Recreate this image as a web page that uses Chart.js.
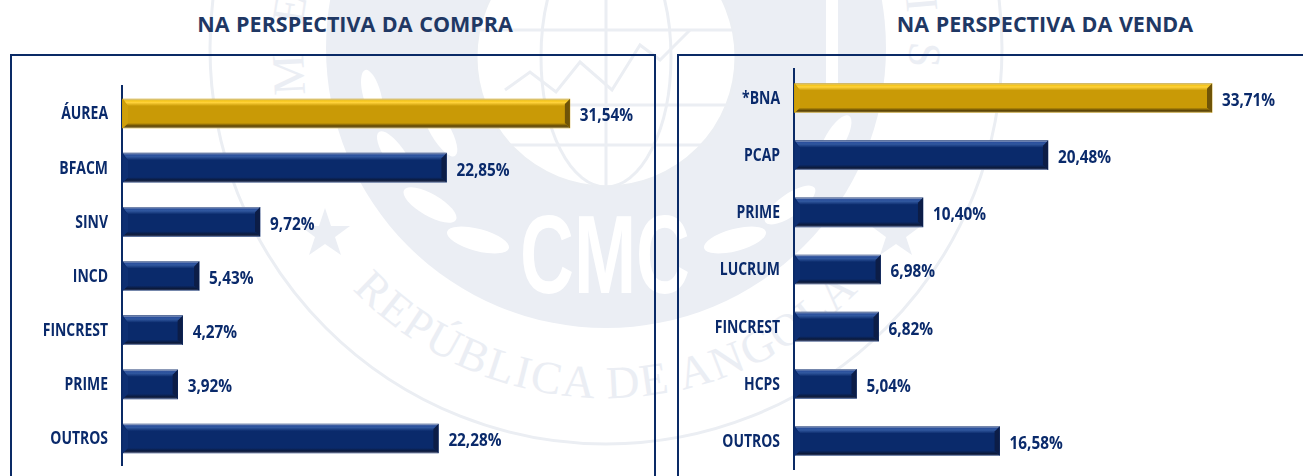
<!DOCTYPE html>
<html>
<head>
<meta charset="utf-8">
<script src="https://cdn.jsdelivr.net/npm/chart.js@4"></script>
<style>
  html, body { margin: 0; padding: 0; background: #fff; overflow: hidden; }
  #page { position: relative; width: 1303px; height: 476px; overflow: hidden; }
  #mark { position: absolute; left: 0; top: 0; }
  .title {
    position: absolute; top: 9px; color: #1f3864; word-spacing: 1px;
    font: bold 21.5px "Open Sans", sans-serif; white-space: nowrap; transform: translateX(-50%);
  }
  .box { position: absolute; top: 54px; height: 430px; box-sizing: border-box; border: 2px solid #0a2a66; }
  canvas { position: absolute; top: 56px; }
</style>
</head>
<body>
<div id="page">
  <!-- faint seal behind the charts -->
  <svg id="mark" width="1303" height="476" fill="none" stroke="#ebeef3">
    <defs>
      <path id="arcLow" d="M256 48 A350 350 0 0 0 956 48"/>
      <path id="arcTop" d="M308 100 A303 303 0 1 1 904 100"/>
    </defs>
    <circle cx="606" cy="48" r="396" stroke-width="3"/>
    <circle cx="606" cy="48" r="280" fill="#ebeef4" stroke="none"/>
    <circle cx="606" cy="57" r="130" fill="#fff" stroke-width="3"/>
    <g stroke-width="3">
      <ellipse cx="606" cy="57" rx="65" ry="130"/>
      <path d="M606 -73 V187 M480 30 H732 M486 105 H726 M500 145 H712"/>
      <path d="M505 90 L530 72 L556 92 L580 62 L612 90 L640 45 L660 60 L690 30"/>
    </g>
    <g fill="#fff" stroke="none">
      <ellipse cx="430" cy="205" rx="30" ry="11" transform="rotate(30 430 205)"/>
      <ellipse cx="478" cy="240" rx="32" ry="11" transform="rotate(15 478 240)"/>
      <ellipse cx="395" cy="155" rx="28" ry="10" transform="rotate(55 395 155)"/>
      <ellipse cx="372" cy="95" rx="26" ry="9" transform="rotate(75 372 95)"/>
      <ellipse cx="440" cy="130" rx="30" ry="10" transform="rotate(60 440 130)"/>
      <ellipse cx="790" cy="205" rx="30" ry="11" transform="rotate(-35 790 205)"/>
      <ellipse cx="735" cy="240" rx="32" ry="11" transform="rotate(-15 735 240)"/>
      <ellipse cx="835" cy="140" rx="28" ry="10" transform="rotate(-60 835 140)"/>
      <rect x="826" y="0" width="12" height="105"/>
      <text x="605" y="293" text-anchor="middle" font-family="Liberation Sans" font-weight="bold" font-size="112" textLength="170" lengthAdjust="spacingAndGlyphs">CMC</text>
    </g>
    <g fill="#ebeef4" stroke="none">
      <polygon points="325,208 331,226 350,226 335,237 341,255 325,244 309,255 315,237 300,226 319,226"/>
      <polygon points="896,208 902,226 921,226 906,237 912,255 896,244 880,255 886,237 871,226 890,226"/>
      <text font-family="Liberation Serif" font-size="46" letter-spacing="2" text-anchor="middle">
        <textPath href="#arcLow" startOffset="50%">REPÚBLICA DE ANGOLA</textPath>
      </text>
      <text font-family="Liberation Serif" font-size="46" letter-spacing="28" text-anchor="middle">
        <textPath href="#arcTop" startOffset="50%">MERCADO DE CAPITAIS</textPath>
      </text>
    </g>
  </svg>
  <div class="title" style="left:355px">NA PERSPECTIVA DA COMPRA</div>
  <div class="title" style="left:1045px">NA PERSPECTIVA DA VENDA</div>
  <div class="box" style="left:10px;width:646px"></div>
  <div class="box" style="left:677px;width:636px"></div>
  <canvas id="compra" width="642" height="420" style="left:12px;width:642px;height:420px"></canvas>
  <canvas id="venda" width="624" height="420" style="left:679px;width:624px;height:420px"></canvas>
</div>
<script>
const compraLabels = ["ÁUREA", "BFACM", "SINV", "INCD", "FINCREST", "PRIME", "OUTROS"];
const compraValues = [31.54, 22.85, 9.72, 5.43, 4.27, 3.92, 22.28];
const vendaLabels = ["*BNA", "PCAP", "PRIME", "LUCRUM", "FINCREST", "HCPS", "OUTROS"];
const vendaValues = [33.71, 20.48, 10.40, 6.98, 6.82, 5.04, 16.58];

const NAVY = "#0a2a6b";
const GOLD = "#c99a06";
const TEXT_FONT = 'bold 17px "Open Sans", sans-serif';

// no narrow bold font installed, so squeeze the text sideways
function squeezedText(ctx, text, x, y, sx, align) {
  ctx.save();
  ctx.translate(x, y);
  ctx.scale(sx, 1);
  ctx.font = TEXT_FONT;
  ctx.fillStyle = NAVY;
  ctx.textAlign = align;
  ctx.textBaseline = "middle";
  ctx.fillText(text, 0, 0);
  ctx.restore();
}

// bevel edges, % labels and category labels
const bevelPlugin = {
  id: "bevel",
  afterDatasetsDraw(chart) {
    const ctx = chart.ctx;
    const values = chart.data.datasets[0].data;
    const yScale = chart.scales.y;
    chart.getDatasetMeta(0).data.forEach((bar, i) => {
      const gold = i === 0;
      const left = bar.base + 1, right = bar.x;
      const top = bar.y - bar.height / 2, bottom = bar.y + bar.height / 2;
      const d = 5;
      const edge = (pts, fill) => {
        ctx.beginPath();
        pts.forEach((p, n) => (n ? ctx.lineTo(p[0], p[1]) : ctx.moveTo(p[0], p[1])));
        ctx.closePath();
        ctx.fillStyle = fill;
        ctx.fill();
      };
      const g1 = ctx.createLinearGradient(0, top, 0, top + d + 2);
      g1.addColorStop(0, gold ? "#cfc08f" : "#a3aec6");
      g1.addColorStop(0.25, gold ? "#f5c518" : "#2a4f9c");
      g1.addColorStop(0.5, gold ? "#ffd23a" : "#31589f");
      g1.addColorStop(1, gold ? GOLD : NAVY);
      edge([[left, top], [right, top], [right - d, top + d + 2], [left + d, top + d + 2]], g1);
      const g2 = ctx.createLinearGradient(0, bottom - d, 0, bottom);
      g2.addColorStop(0, gold ? GOLD : NAVY);
      g2.addColorStop(0.6, gold ? "#5e4606" : "#0b1a3c");
      g2.addColorStop(0.85, gold ? "#7a6324" : "#2a3658");
      g2.addColorStop(1, gold ? "#c9bd94" : "#a3aec6");
      edge([[left + d, bottom - d], [right - d, bottom - d], [right, bottom], [left, bottom]], g2);
      edge([[right - d, top + d], [right, top], [right, bottom], [right - d, bottom - d]], gold ? "#6f5408" : "#0c1d47");
      edge([[left, top + 2], [left + d, top + d + 2], [left + d, bottom - d], [left, bottom]], gold ? "#cfa009" : "#0e2f72");

      squeezedText(ctx, values[i].toFixed(2).replace(".", ",") + "%", right + 10, bar.y + 3, 0.9, "left");
      squeezedText(ctx, chart.data.labels[i], yScale.left + yScale.width - 14, yScale.getPixelForTick(i) + 1, 0.82, "right");
    });
  }
};

function makeChart(id, labels, values, xMax, rightPad, topPad, bottomPad, axisWidth) {
  return new Chart(document.getElementById(id), {
    type: "bar",
    data: {
      labels: labels,
      datasets: [{
        data: values,
        backgroundColor: labels.map((l, i) => (i === 0 ? GOLD : NAVY)),
        barThickness: 29
      }]
    },
    plugins: [bevelPlugin],
    options: {
      indexAxis: "y",
      responsive: false,
      animation: false,
      layout: { padding: { top: topPad, bottom: bottomPad, right: rightPad, left: 0 } },
      plugins: { legend: { display: false }, tooltip: { enabled: false } },
      scales: {
        x: { display: false, min: 0, max: xMax },
        y: {
          afterFit(axis) { axis.width = axisWidth; },
          border: { color: "#0a2a66", width: 2 },
          grid: { display: false },
          ticks: { display: false }
        }
      }
    }
  });
}

makeChart("compra", compraLabels, compraValues, 35, 35, 30.4, 10.4, 110);
makeChart("venda", vendaLabels, vendaValues, 40, 13, 13.4, 6.4, 115);
</script>
</body>
</html>
